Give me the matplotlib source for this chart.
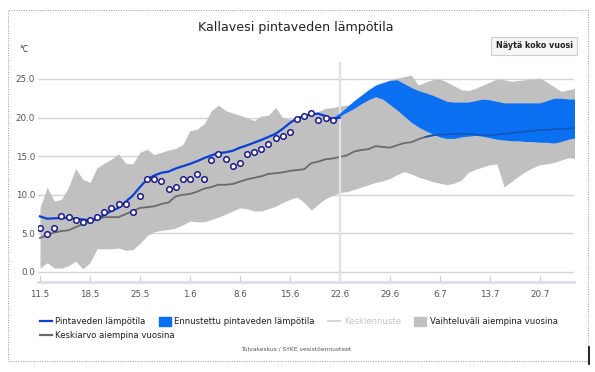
import numpy as np
import matplotlib.pyplot as plt
from matplotlib.lines import Line2D
from matplotlib.patches import Patch, Rectangle

# day 0 = 11.5., one value per day
tick_days = [0, 7, 14, 21, 28, 35, 42, 49, 56, 63, 70]
tick_labels = ["11.5", "18.5", "25.5", "1.6", "8.6", "15.6", "22.6", "29.6", "6.7", "13.7", "20.7"]
today = 42

# observed surface temperature (measured dots)
obs_dots = [5.7, 4.9, 5.7, 7.3, 7.1, 6.7, 6.5, 6.7, 7.1, 7.8,
            8.3, 8.8, 8.8, 7.8, 9.8, 12.0, 12.0, 11.8, 10.8, 11.0,
            12.0, 12.1, 12.7, 12.0, 14.5, 15.3, 14.6, 13.7, 14.1, 15.3,
            15.6, 15.9, 16.6, 17.4, 17.6, 18.1, 19.8, 20.2, 20.6, 19.7,
            19.9, 19.7]

# observed surface temperature (line)
obs_line = [7.2, 6.9, 6.95, 7.0, 7.0, 6.9, 6.8, 6.7, 6.9, 7.4,
            7.9, 8.3, 9.1, 9.9, 11.0, 12.0, 12.5, 12.85, 13.0, 13.4,
            13.7, 14.0, 14.35, 14.75, 15.1, 15.4, 15.5, 15.7, 16.1, 16.4,
            16.75, 17.1, 17.5, 17.9, 18.55, 19.3, 19.9, 20.2, 20.45, 20.5,
            20.2, 19.8, 20.0]

# range in earlier years
hist_upper = [8.3, 11.0, 9.2, 9.4, 11.0, 13.4, 12.0, 11.6, 13.5, 14.1,
              14.6, 15.3, 14.1, 14.0, 15.5, 15.9, 15.2, 15.5, 15.8, 16.0,
              16.5, 18.3, 18.5, 19.2, 20.9, 21.6, 20.9, 20.6, 20.3, 20.0,
              19.6, 20.2, 20.3, 21.3, 20.0, 19.8, 20.0, 20.3, 20.6, 20.8,
              21.2, 21.3, 21.5, 21.6, 21.9, 22.3, 22.9, 24.2, 24.6, 24.9,
              25.1, 25.3, 25.5, 24.2, 24.6, 24.9, 25.0, 24.6, 24.1, 23.6,
              23.5, 23.8, 24.2, 24.6, 25.0, 24.9, 24.7, 24.8, 24.9, 25.0,
              25.1, 24.6, 24.0, 23.4, 23.6, 23.8]
hist_lower = [0.5, 1.2, 0.5, 0.5, 0.8, 1.4, 0.4, 1.2, 3.0, 3.0,
              3.0, 3.1, 2.8, 2.9, 3.7, 4.7, 5.2, 5.4, 5.5, 5.7,
              6.1, 6.6, 6.5, 6.5, 6.8, 7.1, 7.5, 7.9, 8.3, 8.2,
              7.9, 7.9, 8.2, 8.5, 9.0, 9.4, 9.7, 9.0, 8.0, 8.8,
              9.5, 9.9, 10.3, 10.4, 10.7, 11.0, 11.3, 11.6, 11.8, 12.1,
              12.6, 13.0, 12.7, 12.3, 12.0, 11.7, 11.5, 11.3, 11.5, 11.9,
              12.9, 13.3, 13.6, 13.9, 14.0, 11.0, 11.7, 12.4, 13.0, 13.5,
              13.9, 14.0, 14.2, 14.5, 14.8, 14.7]

# mean of earlier years
hist_mean = [4.4, 4.8, 5.1, 5.3, 5.4, 5.8, 6.2, 6.5, 6.8, 7.1,
             7.1, 7.1, 7.5, 7.9, 8.3, 8.4, 8.5, 8.8, 9.0, 9.8,
             10.0, 10.1, 10.4, 10.8, 11.0, 11.3, 11.3, 11.4, 11.7, 12.0,
             12.2, 12.4, 12.7, 12.8, 12.9, 13.1, 13.2, 13.3, 14.1, 14.3,
             14.6, 14.7, 14.9, 15.1, 15.6, 15.8, 15.9, 16.3, 16.2, 16.1,
             16.4, 16.7, 16.8, 17.2, 17.5, 17.7, 17.8, 17.8, 17.9, 17.9,
             17.9, 17.8, 17.7, 17.7, 17.8, 17.9, 18.0, 18.1, 18.2, 18.3,
             18.4, 18.4, 18.5, 18.5, 18.6, 18.6]

# forecast band, starts at day 41
fc_start = 41
fc_upper = [20.0, 20.6, 21.4, 22.2, 22.9, 23.6, 24.2, 24.5, 24.8, 24.9,
            24.4, 23.9, 23.5, 23.2, 22.9, 22.5, 22.1, 22.0, 22.0, 22.0,
            22.2, 22.4, 22.3, 22.1, 21.9, 21.9, 21.9, 21.9, 21.9, 21.9,
            22.2, 22.5, 22.5, 22.4, 22.4]
fc_lower = [19.9, 20.2, 20.7, 21.2, 21.8, 22.3, 22.7, 22.4, 21.7, 21.0,
            20.2, 19.4, 18.8, 18.3, 17.9, 17.5, 17.3, 17.3, 17.5, 17.6,
            17.7, 17.6, 17.4, 17.2, 17.1, 17.0, 17.0, 16.9, 16.9, 16.8,
            16.8, 16.7, 16.9, 17.2, 17.4]

W, H = 595, 372
fig = plt.figure(figsize=(W / 100, H / 100), dpi=100)
ax = fig.add_axes([38 / W, 1 - 282 / H, (574 - 38) / W, (282 - 62) / H])

days = np.arange(len(hist_upper))
fc_days = np.arange(fc_start, fc_start + len(fc_upper))
mean = np.array(hist_mean)

ax.fill_between(days, hist_lower, hist_upper, color="#c0c0c0", lw=0, zorder=1)
ax.plot(days, mean, color="#6b6b6b", lw=1.3, zorder=2)
ax.fill_between(fc_days, fc_lower, fc_upper, color="#0b6ff2", lw=0, zorder=3)
# mean line seen through the forecast band
inside = days >= 54
ax.plot(days[inside], mean[inside], color="#1356b8", lw=1.2, zorder=4)
ax.axvline(today, color="#e2e2e2", lw=1.6, zorder=2.5)
ax.plot(np.arange(len(obs_line)), obs_line, color="#0a3fd6", lw=1.6, zorder=5)
ax.plot(np.arange(len(obs_dots)), obs_dots, ls="none", marker="o", ms=4.0,
        mfc="white", mec="#1a1a8a", mew=1.1, zorder=6)

ax.set_xlim(-0.28, 74.8)
ax.set_ylim(-1.3, 27.2)
ax.set_yticks([0, 5, 10, 15, 20, 25])
ax.set_yticklabels(["0.0", "5.0", "10.0", "15.0", "20.0", "25.0"])
ax.set_xticks(tick_days)
ax.set_xticklabels(tick_labels)
ax.grid(axis="y", color="#d4d4d4", lw=1, zorder=0)
ax.set_axisbelow(True)
for s in ["top", "right", "left"]:
    ax.spines[s].set_visible(False)
ax.spines["bottom"].set_color("#dcdfe6")
ax.spines["bottom"].set_linewidth(2)
ax.tick_params(axis="y", length=0, labelsize=6.3, labelcolor="#555555", pad=2)
ax.tick_params(axis="x", direction="in", length=4, color="#c8c8c8",
               labelsize=6.3, labelcolor="#555555", pad=6)

fig.text(296 / W, 1 - 28 / H, "Kallavesi pintaveden lämpötila", ha="center",
         va="center", fontsize=9.1, color="#222222")
fig.text(19 / W, 1 - 49 / H, "°C", ha="left", va="center", fontsize=5.5, color="#333333")
fig.text(534 / W, 1 - 46 / H, "Näytä koko vuosi", ha="center", va="center",
         fontsize=5.8, weight="bold", color="#222222",
         bbox=dict(boxstyle="square,pad=0.6", fc="#f6f6f6", ec="#cfcfcf", lw=0.8))
fig.text(296 / W, 1 - 349 / H, "Tulvakeskus / SYKE vesistöennusteet", ha="center",
         va="center", fontsize=4.3, color="#555555")

# legend: highcharts flows items in rows, so two figure legends
row1 = [
    (Line2D([], [], color="#0a3fd6", lw=1.6), "Pintaveden lämpötila"),
    (Patch(color="#0b6ff2"), "Ennustettu pintaveden lämpötila"),
    (Line2D([], [], color="#cccccc", lw=1.2), "Keskiennuste"),
    (Patch(color="#c0c0c0"), "Vaihteluväli aiempina vuosina"),
]
row2 = [(Line2D([], [], color="#6b6b6b", lw=1.6), "Keskiarvo aiempina vuosina")]
leg_kw = dict(loc="upper left", frameon=False, fontsize=6.1, handlelength=1.4,
              handleheight=1.2, handletextpad=0.4, borderaxespad=0, borderpad=0,
              labelcolor="#1e1e1e")
leg1 = fig.legend([h for h, _ in row1], [t for _, t in row1], ncol=4,
                  bbox_to_anchor=(40 / W, 1 - 317 / H), columnspacing=1.6, **leg_kw)
leg1.get_texts()[2].set_color("#c4c4c4")
fig.legend([h for h, _ in row2], [t for _, t in row2], ncol=1,
           bbox_to_anchor=(40 / W, 1 - 331 / H), **leg_kw)

# dotted frame around the chart
fig.patches.append(Rectangle((8 / W, 1 - 361 / H), 580 / W, 351 / H, transform=fig.transFigure,
                             fill=False, ls=(0, (1, 1.5)), lw=0.7, ec="#9a9a9a"))
fig.lines.append(Line2D([589 / W, 589 / W], [1 - 347 / H, 1 - 364 / H],
                        transform=fig.transFigure, color="black", lw=1.2))

fig.savefig("out.png", dpi=100)
